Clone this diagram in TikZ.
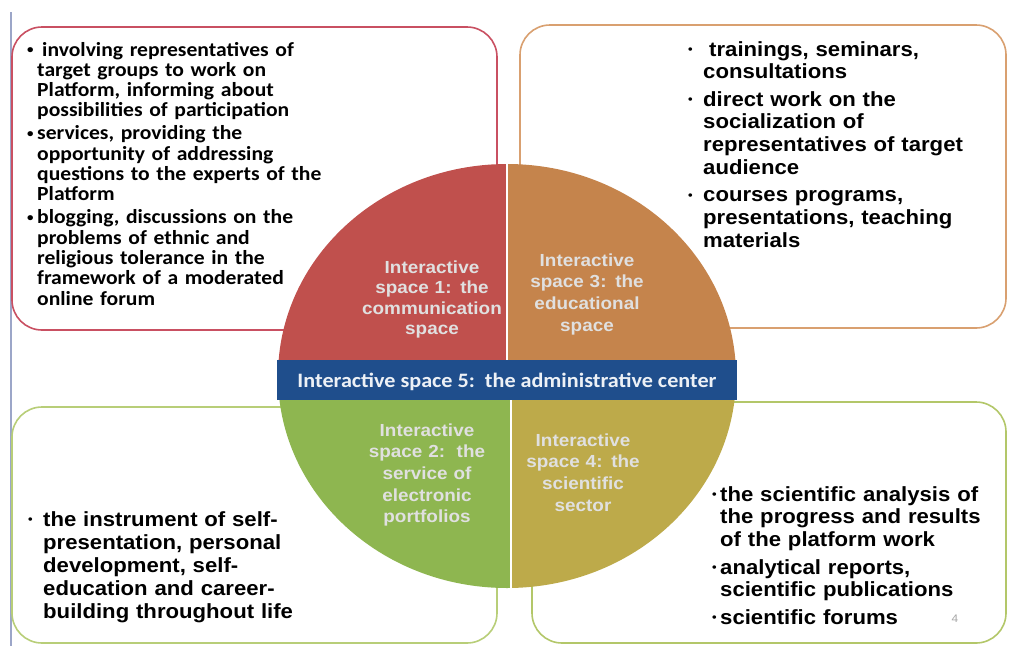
\documentclass[tikz,border=0pt]{standalone}
\usepackage{fontspec}
\setmainfont{Liberation Sans}[FakeStretch=1.08]
\newfontfamily\calfont{Carlito}[FakeStretch=1.08]
\definecolor{cred}{HTML}{C0504D}
\definecolor{corange}{HTML}{C5844C}
\definecolor{cgreen}{HTML}{8EB650}
\definecolor{colive}{HTML}{BDAA4A}
\definecolor{cblue}{HTML}{1F4E8C}
\definecolor{bred}{HTML}{C95062}
\definecolor{borange}{HTML}{D9A070}
\definecolor{bgreen}{HTML}{B8CE78}
\definecolor{bolive}{HTML}{B3C769}
\definecolor{sideline}{HTML}{9CA6C8}
\newcommand\smallbul{\raisebox{2.6pt}{\fontsize{12}{12}\selectfont\textbullet}}
\newcommand\nl{\hfil\break}
\newcommand\itm[2]{\hangindent=#1\hangafter=1\noindent\makebox[#1][l]{\smallbul}#2\par}
\begin{document}
\begin{tikzpicture}[x=1pt,y=-1pt,
  box/.style={draw, line width=1.6pt, rounded corners=30pt},
  bodytext/.style={anchor=base west, inner sep=0pt, text width=#1, align=left},
  lab/.style={anchor=base, inner sep=0pt, text width=170pt, align=center, text=white!88!black},
]
\useasboundingbox[fill=white] (0,0) rectangle (1009,646);
\draw[sideline, line width=2pt] (11,12) -- (11,646);
% boxes
\draw[box, bred] (12,27) rectangle (497,330);
\draw[box, borange] (520,25) rectangle (1006,328);
\draw[box, bgreen] (12,407) rectangle (497,643);
\draw[box, bolive] (532,402) rectangle (1006,643);
% circle
\begin{scope}
\clip (507,376) ellipse [x radius=229, y radius=212];
\fill[cred] (250,140) rectangle (507,376);
\fill[corange] (507,140) rectangle (760,376);
\fill[cgreen] (250,376) rectangle (511,610);
\fill[colive] (511,376) rectangle (760,610);
\draw[white, line width=2pt] (507,150) -- (507,370);
\draw[white, line width=2pt] (511,385) -- (511,600);
\end{scope}
\fill[cblue] (277,360) rectangle (737,400);
\node[anchor=base, inner sep=0pt, text=white!92!cblue, font=\calfont\bfseries\fontsize{20.5}{22}\selectfont] (c5) at (507,387) {Interactive space 5:\ \ the administrative center};
% circle labels
\node[lab, font=\bfseries\fontsize{17.5}{20.5}\selectfont] (c1) at (432,273) {Interactive\\space 1: the\\communication\\space};
\node[lab, font=\bfseries\fontsize{17.5}{21.7}\selectfont] (c3) at (587,266) {Interactive\\space 3: the\\educational\\space};
\node[lab, font=\bfseries\fontsize{17.5}{21.7}\selectfont] (c2) at (427,436) {Interactive\\space 2:\ \ the\\service of\\electronic\\portfolios};
\node[lab, font=\bfseries\fontsize{17.5}{21.7}\selectfont] (c4) at (583,446) {Interactive\\space 4: the\\scientific\\sector};
% texts
\node[bodytext=460pt, font=\calfont\bfseries\fontsize{20}{20.3}\selectfont] (t1) at (27,56) {%
\itm{10pt}{\hspace{5pt}involving representatives of\nl target groups to work on\nl Platform, informing about\nl possibilities of participation}\vspace{2.7pt}
\itm{10pt}{services, providing the\nl opportunity of addressing\nl questions to the experts of the\nl Platform}\vspace{2.7pt}
\itm{10pt}{blogging, discussions on the\nl problems of ethnic and\nl religious tolerance in the\nl framework of a moderated\nl online forum}};
\node[bodytext=310pt, font=\bfseries\fontsize{20.5}{22.7}\selectfont] (t3) at (688,56) {%
\itm{15pt}{\hspace{6pt}trainings, seminars,\nl consultations}\vspace{4.8pt}
\itm{15pt}{direct work on the\nl socialization of\nl representatives of target\nl audience}\vspace{4.8pt}
\itm{15pt}{courses programs,\nl presentations, teaching\nl materials}};
\node[bodytext=460pt, font=\bfseries\fontsize{20.5}{23}\selectfont] (t2) at (28,526) {%
\itm{15pt}{the instrument of self-\nl presentation, personal\nl development, self-\nl education and career-\nl building throughout life}};
\node[bodytext=290pt, font=\bfseries\fontsize{20.5}{22.7}\selectfont] (t4) at (712,501) {%
\itm{8pt}{the scientific analysis of\nl the progress and results\nl of the platform work}\vspace{5pt}
\itm{8pt}{analytical reports,\nl scientific publications}\vspace{5pt}
\itm{8pt}{scientific forums}};
\node[anchor=base, inner sep=0pt, text=black!35, font=\fontsize{11}{13}\selectfont] (pg) at (955,622) {4};
\end{tikzpicture}
\end{document}
